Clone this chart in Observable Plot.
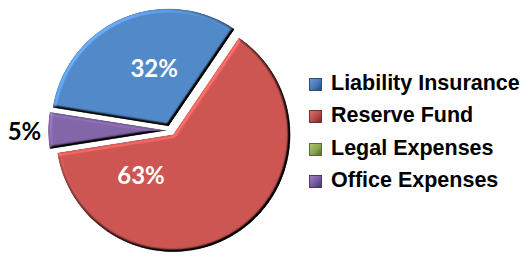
<!DOCTYPE html>
<html><head><meta charset="utf-8">
<script src="https://cdn.jsdelivr.net/npm/d3@7"></script>
<script src="https://cdn.jsdelivr.net/npm/@observablehq/plot@0.6"></script>
<style>
body{margin:0;background:#fff;}
#wrap{position:relative;width:530px;height:260px;overflow:hidden;background:#fff;}
#legend{position:absolute;left:309px;top:0;font-family:"Liberation Sans",Arial,sans-serif;font-weight:bold;font-size:21.5px;color:#000;}
.row{position:absolute;left:0;white-space:nowrap;line-height:21.5px;}
.sw{display:inline-block;width:13px;height:13px;margin-right:9px;vertical-align:-1px;box-sizing:border-box;}
</style></head><body><div id="wrap"></div>
<script>
// ---- data ----
const categories = ["Liability Insurance", "Reserve Fund", "Legal Expenses", "Office Expenses"];
const values = [32, 63, 0, 5];
const labels = ["32%", "63%", "", "5%"];
// ---- styles ----
const colors = ["#5289C8", "#CD5653", "#9BBB59", "#8266A8"];
const markerLight = ["#6C9BD6", "#D6716E", "#AFCB74", "#9A80BC"];
const markerBase = ["#4677B4", "#B64B48", "#88A64C", "#7559A0"];
const markerDark = ["#2B4C78", "#742E2D", "#576C30", "#4A3866"];
// ---- layout ----
const W = 530, H = 260;
const cxPx = 170, cyPx = 130, Rpx = 117, explodePx = 5;
const startDeg = -81;
const labelAngleDeg = [-15, 213, 0, 269.4];
const labelRadius = [0.54, 0.463, 0, 1.248];

const rad = Math.PI / 180;
const pie = d3.pie().sort(null).value(d => d.value)
  .startAngle(startDeg * rad).endAngle(startDeg * rad + 2 * Math.PI);
const arcs = pie(categories.map((name, i) => ({name, value: values[i], i})));
const e = explodePx / Rpx;
const slices = arcs.filter(a => a.data.value > 0).map(a => {
  const m = (a.startAngle + a.endAngle) / 2;
  const ox = e * Math.sin(m), oy = e * Math.cos(m);
  const p = [{x: ox, y: oy}];
  const n = Math.max(2, Math.ceil((a.endAngle - a.startAngle) / rad));
  for (let k = 0; k <= n; k++) {
    const t = a.startAngle + (a.endAngle - a.startAngle) * k / n;
    p.push({x: ox + Math.sin(t), y: oy + Math.cos(t)});
  }
  p.push({x: ox, y: oy});
  return {i: a.data.i, pts: p};
});
const labelData = arcs.filter(a => a.data.value > 0).map(a => {
  const i = a.data.i;
  const ang = labelAngleDeg[i] * rad;
  return {text: labels[i], x: labelRadius[i] * Math.sin(ang), y: labelRadius[i] * Math.cos(ang), outside: labelRadius[i] > 1};
});

const svg = Plot.plot({
  width: W, height: H, margin: 0,
  style: {background: "transparent", overflow: "visible"},
  x: {domain: [-cxPx / Rpx, (W - cxPx) / Rpx], axis: null},
  y: {domain: [-(H - cyPx) / Rpx, cyPx / Rpx], axis: null},
  marks: [
    ...slices.map(s => Plot.line(s.pts, {x: "x", y: "y", fill: colors[s.i], stroke: colors[s.i], strokeWidth: 0.5})),
    Plot.text(labelData.filter(d => !d.outside), {x: "x", y: "y", text: "text", fill: "white", fontFamily: "Lato, 'Open Sans', sans-serif", fontWeight: "bold", fontSize: 24}),
    Plot.text(labelData.filter(d => d.outside), {x: "x", y: "y", text: "text", fill: "black", fontFamily: "Lato, 'Open Sans', sans-serif", fontWeight: "bold", fontSize: 24})
  ]
});

d3.select(svg).insert("defs", ":first-child").html(`
  <filter id="bevel" x="-5%" y="-5%" width="110%" height="110%" color-interpolation-filters="sRGB">
    <feGaussianBlur in="SourceAlpha" stdDeviation="1.8" result="blur"/>
    <feDiffuseLighting in="blur" surfaceScale="4.5" diffuseConstant="1" lighting-color="#ffffff" result="light">
      <feDistantLight azimuth="225" elevation="50"/>
    </feDiffuseLighting>
    <feComposite in="SourceGraphic" in2="light" operator="arithmetic" k1="1.305" k2="0" k3="0" k4="0" result="lit"/>
    <feComposite in="lit" in2="SourceAlpha" operator="in"/>
  </filter>`);
d3.select(svg).selectAll('g[aria-label="line"] path').attr("filter", "url(#bevel)");

const wrap = document.getElementById("wrap");
wrap.appendChild(svg);
svg.style.position = "absolute"; svg.style.left = "0"; svg.style.top = "0";

const legend = document.createElement("div");
legend.id = "legend";
categories.forEach((c, i) => {
  const row = document.createElement("div");
  row.className = "row";
  row.style.top = (72.5 + 32.5 * i) + "px";
  const sw = document.createElement("span");
  sw.className = "sw";
  sw.style.background = `linear-gradient(135deg, ${markerLight[i]} 0%, ${markerBase[i]} 55%, ${markerDark[i]} 100%)`;
  sw.style.border = `1px solid ${markerDark[i]}`;
  row.appendChild(sw);
  row.appendChild(document.createTextNode(c));
  legend.appendChild(row);
});
wrap.appendChild(legend);
</script></body></html>
